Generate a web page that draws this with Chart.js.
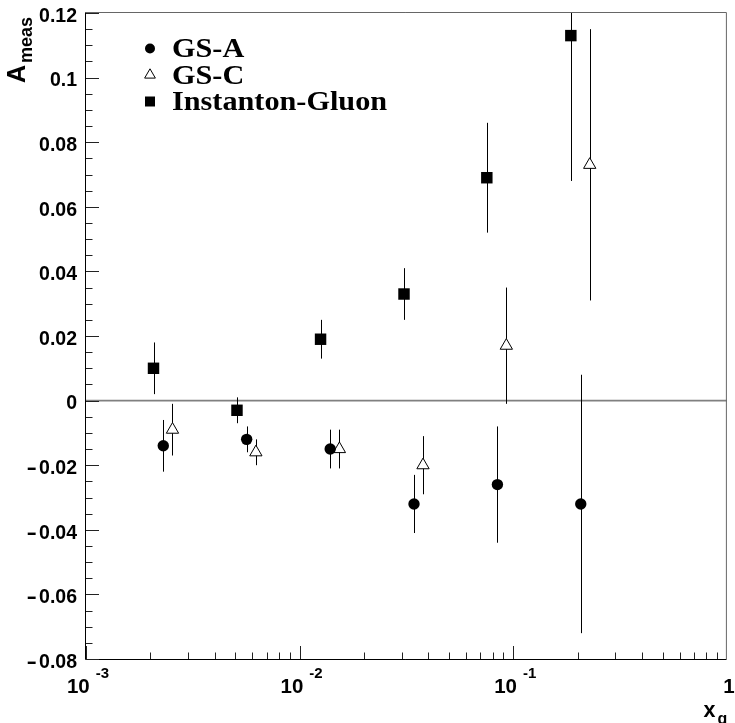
<!DOCTYPE html>
<html><head><meta charset="utf-8">
<script src="https://cdn.jsdelivr.net/npm/chart.js@4.4.1/dist/chart.umd.min.js"></script>
<style>html,body{margin:0;padding:0;background:#fff;}#wrap{width:735px;height:723px;}</style>
</head><body><div id="wrap"><canvas id="c" width="735" height="723"></canvas></div>
<script>
// ---- data ----
const seriesNames = ['GS-A', 'GS-C', 'Instanton-Gluon'];
const xGSA = [0.00230, 0.00565, 0.0139, 0.0343, 0.0843, 0.207];
const yGSA = [-0.014, -0.012, -0.015, -0.032, -0.026, -0.032];
const eGSA = [0.008, 0.004, 0.006, 0.009, 0.018, 0.040];
const xGSC = [0.00254, 0.00624, 0.01535, 0.0378, 0.0928, 0.228];
const yGSC = [-0.009, -0.016, -0.015, -0.020, 0.017, 0.073];
const eGSC = [0.008, 0.004, 0.006, 0.009, 0.018, 0.042];
const xIG = [0.00207, 0.00509, 0.01253, 0.0308, 0.0752, 0.186];
const yIG = [0.010, -0.003, 0.019, 0.033, 0.069, 0.113];
const eIG = [0.008, 0.004, 0.006, 0.008, 0.017, 0.045];
const yTickValues = [-0.08, -0.06, -0.04, -0.02, 0, 0.02, 0.04, 0.06, 0.08, 0.1, 0.12];
const yTickLabels = ['-0.08', '-0.06', '-0.04', '-0.02', '0', '0.02', '0.04', '0.06', '0.08', '0.1', '0.12'];
const xTickValues = [0.001, 0.01, 0.1, 1];
const xTickBase = ['10', '10', '10', '1'];
const xTickExp = ['-3', '-2', '-1', ''];
const yTitle = ['A', 'meas'];
const xTitle = ['x', 'g'];

const pts = (xs, ys) => xs.map((x, i) => ({x: x, y: ys[i]}));

const sansB = s => 'bold ' + s + 'px "Liberation Sans", Arial, sans-serif';
const serifB = s => 'bold ' + s + 'px "Liberation Serif", "Times New Roman", serif';

function marker(ctx, style, x, y, r) {
  ctx.save();
  ctx.beginPath();
  if (style === 'circle') {
    ctx.arc(x, y, r, 0, Math.PI * 2);
    ctx.fillStyle = '#000'; ctx.fill();
  } else if (style === 'rect') {
    ctx.rect(x - r, y - r, 2 * r, 2 * r);
    ctx.fillStyle = '#000'; ctx.fill();
  } else {
    const a = 2 * Math.PI / 3;
    ctx.moveTo(x, y - r);
    ctx.lineTo(x + Math.sin(a) * r, y - Math.cos(a) * r);
    ctx.lineTo(x + Math.sin(2 * a) * r, y - Math.cos(2 * a) * r);
    ctx.closePath();
    ctx.fillStyle = '#fff'; ctx.fill();
    ctx.strokeStyle = '#000'; ctx.lineWidth = 1; ctx.stroke();
  }
  ctx.restore();
}

// draws a label right-aligned at xr; a leading minus is drawn wider (ROOT style)
function numLabel(ctx, txt, xr, y) {
  if (txt.charAt(0) === '-') {
    const rest = txt.slice(1);
    const w = ctx.measureText(rest).width;
    ctx.textAlign = 'right';
    ctx.fillText(rest, xr, y);
    ctx.save();
    ctx.translate(xr - w - 12.5, y);
    ctx.scale(1.6, 1);
    ctx.textAlign = 'left';
    ctx.fillText('-', 0, 0);
    ctx.restore();
  } else {
    ctx.textAlign = 'right';
    ctx.fillText(txt, xr, y);
  }
}

const rootPlugin = {
  id: 'rootStyle',
  beforeDatasetsDraw(chart) {
    const ctx = chart.ctx, a = chart.chartArea;
    const xs = chart.scales.x, ys = chart.scales.y;
    ctx.save();
    ctx.beginPath(); ctx.rect(a.left, a.top, a.right - a.left, a.bottom - a.top); ctx.clip();
    // zero line
    const y0 = ys.getPixelForValue(0);
    ctx.strokeStyle = '#808080'; ctx.lineWidth = 1.6;
    ctx.beginPath(); ctx.moveTo(a.left, y0); ctx.lineTo(a.right, y0); ctx.stroke();
    // error bars
    ctx.strokeStyle = '#000'; ctx.lineWidth = 1;
    chart.data.datasets.forEach(ds => {
      ds.data.forEach((p, i) => {
        const px = Math.round(xs.getPixelForValue(p.x)) + 0.5;
        ctx.beginPath();
        ctx.moveTo(px, ys.getPixelForValue(p.y + ds.err[i]));
        ctx.lineTo(px, ys.getPixelForValue(p.y - ds.err[i]));
        ctx.stroke();
      });
    });
    ctx.restore();
  },
  afterDraw(chart) {
    const ctx = chart.ctx, a = chart.chartArea;
    const xs = chart.scales.x, ys = chart.scales.y;
    ctx.save();
    // frame
    ctx.lineWidth = 1;
    ctx.strokeStyle = '#666';
    ctx.beginPath();
    ctx.moveTo(a.left - 0.5, a.top - 0.5); ctx.lineTo(a.right - 0.5, a.top - 0.5); ctx.lineTo(a.right - 0.5, a.bottom + 0.5);
    ctx.stroke();
    ctx.strokeStyle = '#000';
    ctx.beginPath();
    ctx.moveTo(a.left - 0.5, a.top - 0.5); ctx.lineTo(a.left - 0.5, a.bottom + 0.5); ctx.lineTo(a.right - 0.5, a.bottom + 0.5);
    ctx.stroke();
    // y ticks
    ctx.strokeStyle = '#222';
    for (let v = -0.08; v <= 0.1201; v += 0.005) {
      const py = Math.round(ys.getPixelForValue(v)) + 0.5;
      const major = Math.abs(Math.round(v / 0.02) * 0.02 - v) < 1e-6;
      ctx.beginPath(); ctx.moveTo(a.left, py); ctx.lineTo(a.left + (major ? 13 : 6.5), py); ctx.stroke();
    }
    // x ticks
    for (let d = -3; d < 0; d++) {
      for (let m = 1; m <= 9; m++) {
        const v = m * Math.pow(10, d);
        const px = Math.round(xs.getPixelForValue(v)) + 0.5;
        ctx.beginPath(); ctx.moveTo(px, a.bottom); ctx.lineTo(px, a.bottom - (m === 1 ? 13 : 6.5)); ctx.stroke();
      }
    }
    // y labels
    ctx.fillStyle = '#000';
    ctx.font = sansB(19.5);
    ctx.textBaseline = 'alphabetic';
    yTickValues.forEach((v, i) => {
      numLabel(ctx, yTickLabels[i], 77, ys.getPixelForValue(v) + 8.7);
    });
    // x labels
    xTickValues.forEach((v, i) => {
      const px = xs.getPixelForValue(v);
      ctx.font = sansB(20.5);
      const w1 = ctx.measureText(xTickBase[i]).width;
      ctx.font = sansB(15);
      const w2 = xTickExp[i] ? ctx.measureText(xTickExp[i]).width + 6 : 0;
      const start = px + 2 - (w1 + w2) / 2;
      ctx.textAlign = 'left';
      ctx.font = sansB(20.5);
      ctx.fillText(xTickBase[i], start, 693);
      if (xTickExp[i]) { ctx.font = sansB(15); ctx.fillText(xTickExp[i], start + w1 + 6, 678); }
    });
    // x title
    ctx.textAlign = 'left';
    ctx.font = sansB(21.5); ctx.fillText(xTitle[0], 703.5, 717);
    ctx.font = sansB(16); ctx.fillText(xTitle[1], 717.5, 724);
    // y title
    ctx.save();
    ctx.translate(25, 83); ctx.rotate(-Math.PI / 2);
    ctx.textAlign = 'left';
    ctx.font = sansB(25); ctx.fillText(yTitle[0], 0, 0);
    ctx.font = sansB(18); ctx.fillText(yTitle[1], 20, 7);
    ctx.restore();
    // legend
    const rows = [48.5, 75, 101.5];
    const styles = ['circle', 'triangle', 'rect'];
    const sizes = [5, 6.2, 5];
    chart.data.datasets.forEach((ds, i) => {
      marker(ctx, styles[i], 150, rows[i], sizes[i]);
      ctx.save();
      ctx.translate(172, rows[i] + 8.5);
      ctx.scale(1.12, 1);
      ctx.font = serifB(27);
      ctx.textAlign = 'left';
      ctx.fillText(ds.label, 0, 0);
      ctx.restore();
    });
    ctx.restore();
  }
};

new Chart(document.getElementById('c'), {
  type: 'scatter',
  data: {
    datasets: [
      {label: seriesNames[0], data: pts(xGSA, yGSA), err: eGSA, pointStyle: 'circle', pointRadius: 5.7, pointHoverRadius: 5.7, backgroundColor: '#000', borderColor: '#000', borderWidth: 0},
      {label: seriesNames[1], data: pts(xGSC, yGSC), err: eGSC, pointStyle: 'triangle', pointRadius: 7.1, pointHoverRadius: 7.1, backgroundColor: '#fff', borderColor: '#000', borderWidth: 1},
      {label: seriesNames[2], data: pts(xIG, yIG), err: eIG, pointStyle: 'rect', pointRadius: 8.1, pointHoverRadius: 8.1, backgroundColor: '#000', borderColor: '#000', borderWidth: 0}
    ]
  },
  options: {
    responsive: false, animation: false, devicePixelRatio: 1, events: [],
    layout: {padding: {left: 86, top: 13, right: 3, bottom: 64}},
    plugins: {legend: {display: false}, tooltip: {enabled: false}},
    scales: {
      x: {type: 'logarithmic', min: 0.001, max: 1, display: false},
      y: {type: 'linear', min: -0.08, max: 0.12, display: false}
    }
  },
  plugins: [rootPlugin]
});
</script>
</body></html>
